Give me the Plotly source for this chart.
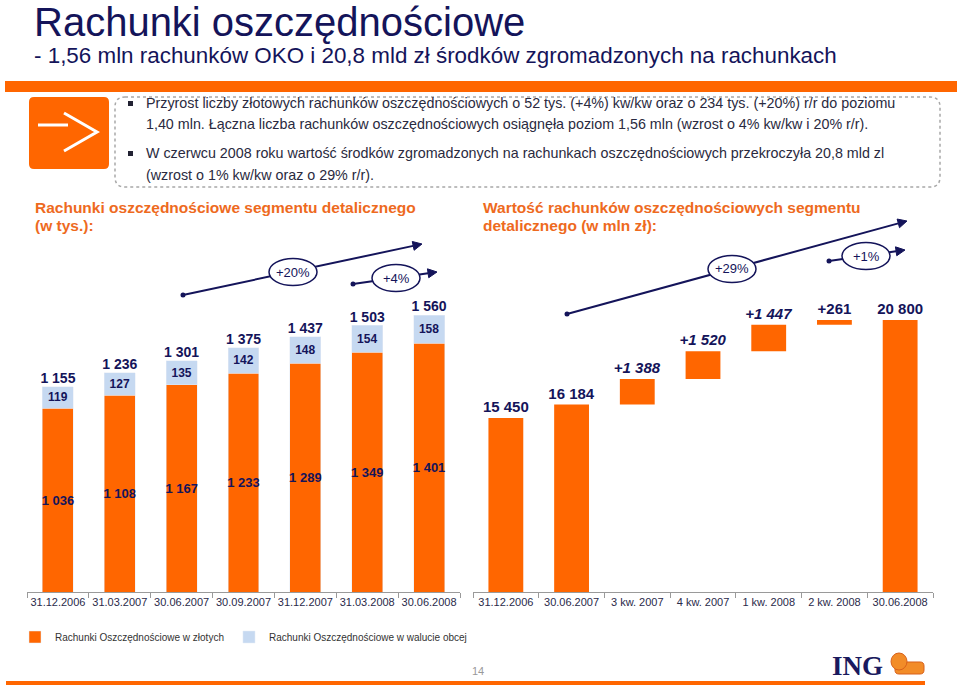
import numpy as np
import plotly.graph_objects as go

W, H = 960, 691

# --- data: left chart (number of savings accounts, thousands) ---
dates_left = ["31.12.2006", "31.03.2007", "30.06.2007", "30.09.2007",
              "31.12.2007", "31.03.2008", "30.06.2008"]
pln_accounts = [1036, 1108, 1167, 1233, 1289, 1349, 1401]
fx_accounts = [119, 127, 135, 142, 148, 154, 158]
total_accounts = [1155, 1236, 1301, 1375, 1437, 1503, 1560]

# --- data: right chart (value of savings accounts, mln PLN) ---
periods_right = ["31.12.2006", "30.06.2007", "3 kw. 2007", "4 kw. 2007",
                 "1 kw. 2008", "2 kw. 2008", "30.06.2008"]
deposit_values = [15450, 16184, 1388, 1520, 1447, 261, 20800]
deposit_measure = ["absolute", "absolute", "relative", "relative",
                   "relative", "relative", "total"]
deposit_italic = [False, False, True, True, True, False, False]

growth_left = ["+20%", "+4%"]
growth_right = ["+29%", "+1%"]

ORANGE = "#FF6600"
LIGHTBLUE = "#C6D9F1"
NAVY = "#14145A"
FONT = "Liberation Sans, Arial, sans-serif"


def fmt(v):
    return f"{v:,}".replace(",", " ")


def fx(x):
    return x / W


def fy(y):
    return 1 - y / H


deposit_text = []
for v, m, it in zip(deposit_values, deposit_measure, deposit_italic):
    s = ("+" if m == "relative" else "") + fmt(v)
    deposit_text.append(f"<i>{s}</i>" if it else s)

fig = go.Figure()

fig.add_trace(go.Bar(
    x=dates_left, y=pln_accounts, name="Rachunki Oszczędnościowe w złotych",
    marker_color=ORANGE, text=[fmt(v) for v in pln_accounts],
    textposition="inside", insidetextanchor="middle", constraintext="none", textangle=0,
    textfont=dict(family=FONT, size=13, color=NAVY, weight="bold"),
    xaxis="x", yaxis="y",
))
fig.add_trace(go.Bar(
    x=dates_left, y=fx_accounts, name="Rachunki Oszczędnościowe w walucie obcej",
    marker_color=LIGHTBLUE, text=[fmt(v) for v in fx_accounts],
    textposition="inside", insidetextanchor="middle", constraintext="none", textangle=0,
    textfont=dict(family=FONT, size=12, color=NAVY, weight="bold"),
    xaxis="x", yaxis="y",
))
fig.add_trace(go.Scatter(
    x=dates_left, y=total_accounts, mode="text", text=[fmt(v) for v in total_accounts],
    textposition="top center", showlegend=False, cliponaxis=False,
    textfont=dict(family=FONT, size=14, color=NAVY, weight="bold"),
    xaxis="x", yaxis="y",
))
fig.add_trace(go.Waterfall(
    x=periods_right, y=deposit_values, measure=deposit_measure,
    text=deposit_text, textposition="outside", constraintext="none", textangle=0,
    textfont=dict(family=FONT, size=15, color=NAVY, weight="bold"),
    increasing=dict(marker=dict(color=ORANGE)),
    decreasing=dict(marker=dict(color=ORANGE)),
    totals=dict(marker=dict(color=ORANGE)),
    connector=dict(visible=False), showlegend=False, cliponaxis=False,
    xaxis="x2", yaxis="y2",
))

axis_bottom = fy(592)
axis_top = fy(250)
xcommon = dict(type="category", showline=True, linecolor="#9A9A9A", linewidth=1,
               ticks="outside", tickson="boundaries", ticklen=5, tickcolor="#9A9A9A",
               showgrid=False, zeroline=False, tickangle=0,
               tickfont=dict(family=FONT, size=11, color="#2A2A4A"))
fig.update_layout(
    width=W, height=H, autosize=False,
    margin=dict(l=0, r=0, t=0, b=0),
    paper_bgcolor="white", plot_bgcolor="white",
    barmode="stack", bargap=0.5, waterfallgap=0.47,
    font=dict(family=FONT, color=NAVY),
    xaxis=dict(domain=[fx(27), fx(460)], anchor="y", **xcommon),
    yaxis=dict(domain=[axis_bottom, axis_top], range=[0, 1926], visible=False),
    xaxis2=dict(domain=[fx(473), fx(933)], anchor="y2", **xcommon),
    yaxis2=dict(domain=[axis_bottom, axis_top], range=[5950, 24618], visible=False),
    legend=dict(orientation="h", x=fx(15), y=fy(637), xanchor="left", yanchor="middle",
                traceorder="normal",
                font=dict(family=FONT, size=10, color="#333333"),
                itemwidth=30, bgcolor="rgba(0,0,0,0)"),
)

shapes = []
annotations = []


def rrect(x0, y0, x1, y1, r):
    pts = [("M", x0 + r, y0), ("L", x1 - r, y0), ("Q", x1, y0, x1, y0 + r),
           ("L", x1, y1 - r), ("Q", x1, y1, x1 - r, y1), ("L", x0 + r, y1),
           ("Q", x0, y1, x0, y1 - r), ("L", x0, y0 + r), ("Q", x0, y0, x0 + r, y0)]
    out = ""
    for p in pts:
        cmd, coords = p[0], p[1:]
        out += cmd + " ".join(f"{fx(coords[i]):.5f},{fy(coords[i + 1]):.5f}"
                              for i in range(0, len(coords), 2)) + " "
    return out + "Z"


def poly(points, close=False):
    s = "M" + " L".join(f"{fx(x):.5f},{fy(y):.5f}" for x, y in points)
    return s + (" Z" if close else "")


# top orange band
shapes.append(dict(type="rect", xref="paper", yref="paper", x0=fx(5), x1=fx(957),
                   y0=fy(92), y1=fy(81), fillcolor=ORANGE, line_width=0))
# orange arrow box
shapes.append(dict(type="path", xref="paper", yref="paper", path=rrect(29, 97, 109, 169, 5),
                   fillcolor=ORANGE, line_width=0))
shapes.append(dict(type="path", xref="paper", yref="paper",
                   path=poly([(38, 125), (68, 125)]), line=dict(color="white", width=3)))
shapes.append(dict(type="path", xref="paper", yref="paper",
                   path=poly([(64, 113), (97, 132), (64, 151)]), line=dict(color="white", width=3)))
# dotted text box
shapes.append(dict(type="path", xref="paper", yref="paper", path=rrect(115, 97, 940, 187, 10),
                   fillcolor="rgba(0,0,0,0)", line=dict(color="#A8A8A8", width=1.5, dash="dot")))
# bullets
for by in (103, 153):
    shapes.append(dict(type="rect", xref="paper", yref="paper", x0=fx(128), x1=fx(133),
                       y0=fy(by + 3), y1=fy(by - 2), fillcolor="#222233", line_width=0))
# bottom orange line
shapes.append(dict(type="rect", xref="paper", yref="paper", x0=fx(6), x1=fx(925),
                   y0=fy(685), y1=fy(681), fillcolor=ORANGE, line_width=0))
# lion (simplified)
shapes.append(dict(type="path", xref="paper", yref="paper",
                   path=rrect(895, 662, 924, 674, 4), fillcolor="#F28C28",
                   line=dict(color="#D8601A", width=1)))
shapes.append(dict(type="circle", xref="paper", yref="paper", x0=fx(891), x1=fx(907),
                   y0=fy(670), y1=fy(653), fillcolor="#F28C28", line=dict(color="#D8601A", width=1)))

bullet_lines = [
    (103, "Przyrost liczby złotowych rachunków oszczędnościowych o 52 tys. (+4%) kw/kw oraz o 234 tys. (+20%) r/r do poziomu"),
    (124, "1,40 mln. Łączna liczba rachunków oszczędnościowych osiągnęła poziom 1,56 mln (wzrost o 4% kw/kw i 20% r/r)."),
    (153, "W czerwcu 2008 roku wartość środków zgromadzonych na rachunkach oszczędnościowych przekroczyła 20,8 mld zl"),
    (175, "(wzrost o 1% kw/kw oraz o 29% r/r)."),
]
for y, t in bullet_lines:
    annotations.append(dict(x=fx(144), y=fy(y), text=t, font=dict(size=14.3, color="#2A2A40")))

HEAD = dict(size=15.5, color="#EE6A1E", weight="bold")
annotations += [
    dict(x=fx(32), y=fy(22), text="Rachunki oszczędnościowe", font=dict(size=40, color=NAVY)),
    dict(x=fx(32), y=fy(55), text="- 1,56 mln rachunków OKO i 20,8 mld zł środków zgromadzonych na rachunkach",
         font=dict(size=22.4, color=NAVY)),
    dict(x=fx(33), y=fy(207), text="Rachunki oszczędnościowe segmentu detalicznego", font=dict(HEAD)),
    dict(x=fx(33), y=fy(225), text="(w tys.):", font=dict(HEAD)),
    dict(x=fx(481), y=fy(207), text="Wartość rachunków oszczędnościowych segmentu", font=dict(HEAD)),
    dict(x=fx(481), y=fy(225), text="detalicznego (w mln zł):", font=dict(HEAD)),
    dict(x=fx(478), y=fy(671), text="14", xanchor="center", font=dict(size=11, color="#999999")),
    dict(x=fx(830), y=fy(666), text="<b>ING</b>",
         font=dict(family="Liberation Serif, DejaVu Serif, serif", size=27, color="#1A1A5E")),
]


def growth_arrow(start, end, center, label, w=48, h=27):
    (x0, y0), (x1, y1), (cx, cy) = start, end, center
    d = np.array([x1 - x0, y1 - y0], float)
    d /= np.linalg.norm(d)
    n = np.array([-d[1], d[0]])
    tip = np.array([x1, y1], float)
    base = tip - 9 * d
    shapes.append(dict(type="path", xref="paper", yref="paper",
                       path=poly([(x0, y0), tuple(base)]), line=dict(color=NAVY, width=2)))
    shapes.append(dict(type="path", xref="paper", yref="paper",
                       path=poly([tuple(tip), tuple(base + 4.5 * n), tuple(base - 4.5 * n)], close=True),
                       fillcolor=NAVY, line=dict(color=NAVY, width=1)))
    shapes.append(dict(type="circle", xref="paper", yref="paper", x0=fx(x0 - 2.5), x1=fx(x0 + 2.5),
                       y0=fy(y0 + 2.5), y1=fy(y0 - 2.5), fillcolor=NAVY, line_width=0))
    shapes.append(dict(type="circle", xref="paper", yref="paper", x0=fx(cx - w / 2), x1=fx(cx + w / 2),
                       y0=fy(cy + h / 2), y1=fy(cy - h / 2), fillcolor="white",
                       line=dict(color=NAVY, width=1.5)))
    annotations.append(dict(x=fx(cx), y=fy(cy), text=label, xanchor="center",
                            font=dict(size=13, color=NAVY)))


growth_arrow((183, 295), (422, 244), (293, 272), growth_left[0])
growth_arrow((353, 284), (437, 272), (396, 278), growth_left[1])
growth_arrow((567, 314), (907, 221), (732, 269), growth_right[0])
growth_arrow((829, 261), (905, 250), (866, 256), growth_right[1])

for a in annotations:
    a.setdefault("xref", "paper")
    a.setdefault("yref", "paper")
    a.setdefault("xanchor", "left")
    a.setdefault("yanchor", "middle")
    a.setdefault("showarrow", False)
    a["font"].setdefault("family", FONT)

fig.update_layout(shapes=shapes, annotations=annotations)
# the browser's default 8px body margin would push the slide off its 960x691 frame
fig.write_html("out.html", config={"displayModeBar": False},
               post_script="document.body.style.margin='0';")
